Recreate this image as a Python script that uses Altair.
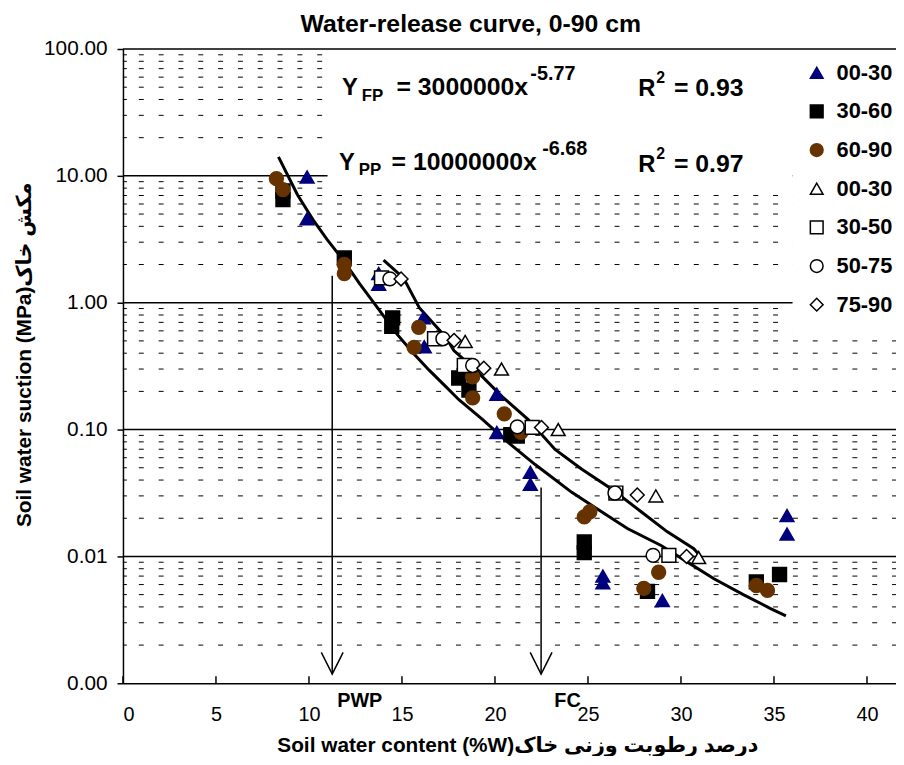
import altair as alt
import pandas as pd

FONT = "Liberation Sans, DejaVu Sans, sans-serif"
NAVY = "#00007F"
BROWN = "#663300"

# ---------------- data ----------------
groups = ["00-30", "30-60", "60-90", "00-30 ", "30-50", "50-75", "75-90"]

g1_x = [9.9, 9.9, 13.75, 13.75, 16.15, 16.2, 20.1, 20.1, 21.9, 21.9, 25.8, 25.8, 29.0, 35.7, 35.7]
g1_y = [9.8, 4.6, 1.7, 1.4, 0.76, 0.45, 0.19, 0.095, 0.046, 0.037, 0.0070, 0.0062, 0.0045, 0.021, 0.015]

g2_x = [8.6, 8.6, 11.9, 14.5, 14.45, 18.05, 18.6, 20.85, 21.2, 24.8, 24.8, 28.2, 34.05, 35.3]
g2_y = [7.6, 6.5, 2.25, 0.76, 0.65, 0.255, 0.205, 0.091, 0.089, 0.013, 0.0107, 0.0053, 0.0063, 0.0072]

g3_x = [8.25, 8.6, 11.9, 11.9, 15.9, 15.65, 18.8, 18.8, 20.5, 21.4, 25.1, 24.8, 28.8, 28.0, 34.05, 34.65]
g3_y = [9.5, 7.8, 2.0, 1.7, 0.64, 0.445, 0.26, 0.178, 0.133, 0.095, 0.0225, 0.0205, 0.0075, 0.0056, 0.0059, 0.0054]

g4_x = [18.4, 20.35, 23.4, 28.65, 30.95]
g4_y = [0.495, 0.30, 0.10, 0.030, 0.0098]

g5_x = [13.9, 16.75, 18.35, 22.0, 26.5, 29.35]
g5_y = [1.57, 0.52, 0.32, 0.104, 0.0316, 0.0102]

g6_x = [14.35, 17.2, 18.8, 21.2, 26.45, 28.5]
g6_y = [1.54, 0.52, 0.32, 0.105, 0.0316, 0.0102]

g7_x = [14.95, 17.8, 19.4, 22.5, 27.65, 30.3]
g7_y = [1.54, 0.505, 0.305, 0.104, 0.0305, 0.010]

pp_x = [8.36, 9.38, 10.28, 10.97, 11.88, 12.73, 13.80, 14.70, 15.61, 16.46, 17.37, 18.06,
        19.34, 20.72, 22.16, 24.13, 25.73, 27.12, 28.93, 30.31, 31.75, 33.35, 34.79, 35.64]
pp_y = [14.1, 7.1, 4.37, 3.16, 2.13, 1.41, 0.866, 0.573, 0.40, 0.294, 0.217, 0.172,
        0.12, 0.079, 0.053, 0.032, 0.0225, 0.0166, 0.0122, 0.0091, 0.0067, 0.005, 0.0039, 0.0034]

fp_x = [14.01, 15.08, 15.93, 17.37, 17.79, 18.97, 20.40, 21.79, 23.23, 24.67, 26.27, 27.86, 29.25, 30.69, 31.06]
fp_y = [2.17, 1.57, 0.914, 0.533, 0.42, 0.294, 0.181, 0.12, 0.0698, 0.0487, 0.034, 0.0225, 0.0157, 0.0115, 0.01]

arrow_x = [11.25, 22.48]
arrow_top = [1.63, 0.035]
arrow_tip = [0.00118, 0.00118]
arrow_label = ["PWP", "FC"]
arrow_label_x = [12.73, 23.9]

x_ticks = [0, 5, 10, 15, 20, 25, 30, 35, 40]
y_major = [0.001, 0.01, 0.1, 1, 10, 100]
y_minor = [m * d for d in [0.001, 0.01, 0.1, 1, 10] for m in range(2, 10)]

X_MAX = 41.56

# ---------------- tables ----------------
rows = []
for g, xs_, ys_ in zip(groups, [g1_x, g2_x, g3_x, g4_x, g5_x, g6_x, g7_x],
                       [g1_y, g2_y, g3_y, g4_y, g5_y, g6_y, g7_y]):
    for a, b in zip(xs_, ys_):
        rows.append({"group": g, "w": a, "s": b})
pts = pd.DataFrame(rows)

curves = pd.DataFrame(
    [{"curve": "PP", "i": i, "w": a, "s": b} for i, (a, b) in enumerate(zip(pp_x, pp_y))]
    + [{"curve": "FP", "i": i, "w": a, "s": b} for i, (a, b) in enumerate(zip(fp_x, fp_y))]
)
arrows = pd.DataFrame({"x": arrow_x, "top": arrow_top, "tip": arrow_tip,
                       "lab": arrow_label, "lx": arrow_label_x})
boxes = pd.DataFrame({"x0": [11.0, 36.0], "x1": [36.0, X_MAX], "y0": [7.5, 0.55], "y1": [100, 100]})

xs = alt.Scale(domain=[0, X_MAX], nice=False, zero=False)
ys = alt.Scale(type="log", domain=[0.001, 100], nice=False)

W, H = 780, 640

XA = alt.Axis(
    values=x_ticks, format="d", grid=False, ticks=False, tickSize=0,
    labelFont=FONT, labelFontSize=20, labelColor="black", labelPadding=22,
    domainColor="black", domainWidth=1.5,
    title="Soil water content (%W)درصد رطوبت وزنی خاک",
    titleFont=FONT, titleFontSize=21, titleFontWeight="bold", titleColor="black",
    titleX=398, titleY=63, titleAlign="center", titleBaseline="middle")
YA = alt.Axis(
    values=y_major, format=".2f", grid=False, tickSize=6, tickColor="black",
    tickWidth=1.5, labelFont=FONT, labelFontSize=21, labelColor="black",
    labelPadding=10, domainColor="black", domainWidth=1.5,
    title="Soil water suction (MPa)مکش خاک",
    titleFont=FONT, titleFontSize=21, titleFontWeight="bold", titleColor="black",
    titleX=-99, titleY=308, titleAngle=270, titleAlign="center", titleBaseline="middle")


def X(field):
    return alt.X(field, scale=xs, axis=XA)


def Y(field):
    return alt.Y(field, scale=ys, axis=YA)


# ---------------- layers ----------------
minor_grid = alt.Chart(pd.DataFrame({"v": y_minor})).mark_rule(
    color="black", strokeWidth=1, strokeDash=[5, 15], strokeDashOffset=1
).encode(y=Y("v:Q"))

minor_ticks = alt.Chart(pd.DataFrame({"v": y_minor})).mark_rule(
    color="black", strokeWidth=1
).encode(y=Y("v:Q"), x=alt.value(0), x2=alt.value(4))

major_grid = alt.Chart(pd.DataFrame({"v": [0.01, 0.1, 1, 10]})).mark_rule(
    color="black", strokeWidth=1.5
).encode(y=Y("v:Q"))

white = alt.Chart(boxes).mark_rect(color="white").encode(
    x=X("x0:Q"), x2="x1:Q", y=Y("y0:Q"), y2="y1:Q")

top_line = alt.Chart(pd.DataFrame({"v": [100]})).mark_rule(
    color="black", strokeWidth=1.5
).encode(y=Y("v:Q"))

x_tick_marks = alt.Chart(pd.DataFrame({"v": x_ticks})).mark_rule(
    color="black", strokeWidth=1.5
).encode(x=X("v:Q"), y=alt.value(H - 7), y2=alt.value(H))

arrow_lines = alt.Chart(arrows).mark_rule(color="black", strokeWidth=1.5).encode(
    x=X("x:Q"), y=Y("top:Q"), y2="tip:Q")

arrow_heads = alt.Chart(arrows).mark_point(
    shape="M-1,-2L0,0L1,-2", size=484, filled=False, color="black",
    strokeWidth=1.5, opacity=1
).encode(x=X("x:Q"), y=Y("tip:Q"))

arrow_text = alt.Chart(arrows).mark_text(
    font=FONT, fontSize=20, fontWeight="bold", color="black",
    align="center", baseline="alphabetic"
).encode(x=X("lx:Q"), y=alt.value(664), text="lab:N")

lines = alt.Chart(curves).mark_line(color="black", strokeWidth=3).encode(
    x=X("w:Q"), y=Y("s:Q"), detail="curve:N", order="i:Q")

leg = alt.Legend(
    orient="none", legendX=689, legendY=13, title=None,
    labelFont=FONT, labelFontSize=22, labelFontWeight="bold", labelColor="black",
    symbolSize=165, symbolStrokeWidth=1.5, rowPadding=17, labelOffset=9,
    padding=0, labelLimit=200)

points = alt.Chart(pts).mark_point(filled=True, size=195, strokeWidth=1.5, opacity=1).encode(
    x=X("w:Q"), y=Y("s:Q"),
    shape=alt.Shape("group:N", scale=alt.Scale(
        domain=groups,
        range=["triangle-up", "square", "circle", "triangle-up", "square", "circle", "diamond"]),
        legend=leg),
    fill=alt.Fill("group:N", scale=alt.Scale(
        domain=groups,
        range=[NAVY, "black", BROWN, "white", "white", "white", "white"]), legend=leg),
    stroke=alt.Stroke("group:N", scale=alt.Scale(
        domain=groups,
        range=[NAVY, "black", BROWN, "black", "black", "black", "black"]), legend=leg),
)


def label(txt, x, y, size, align="left"):
    return alt.Chart(alt.Data(values=[{"t": txt}])).mark_text(
        font=FONT, fontSize=size, fontWeight="bold", color="black",
        align=align, baseline="alphabetic"
    ).encode(text="t:N", x=alt.value(x), y=alt.value(y))


texts = [
    label("Water-release curve, 0-90 cm", 351, -17, 25, "center"),
    label("Y", 221, 46, 24), label("FP", 241, 52, 17), label("= 3000000x", 276, 46, 25),
    label("-5.77", 411, 31, 20), label("R", 520, 47, 24), label("2", 538, 34, 16),
    label("= 0.93", 556, 47, 25),
    label("Y", 218, 122, 24), label("PP", 238, 127, 17), label("= 10000000x", 271, 122, 25),
    label("-6.68", 423, 107, 20), label("R", 520, 124, 24), label("2", 538, 111, 16),
    label("= 0.97", 556, 124, 25),
]

chart = alt.layer(
    minor_grid, minor_ticks, major_grid, white, top_line, x_tick_marks,
    arrow_lines, arrow_heads, arrow_text, lines, points, *texts
).properties(
    width=W, height=H,
    autosize=alt.AutoSizeParams(type="none"),
    padding={"left": 116, "top": 38, "right": 0, "bottom": 70},
).configure_view(strokeWidth=0)

chart.save("out.html", embed_options={"renderer": "svg", "actions": False})
